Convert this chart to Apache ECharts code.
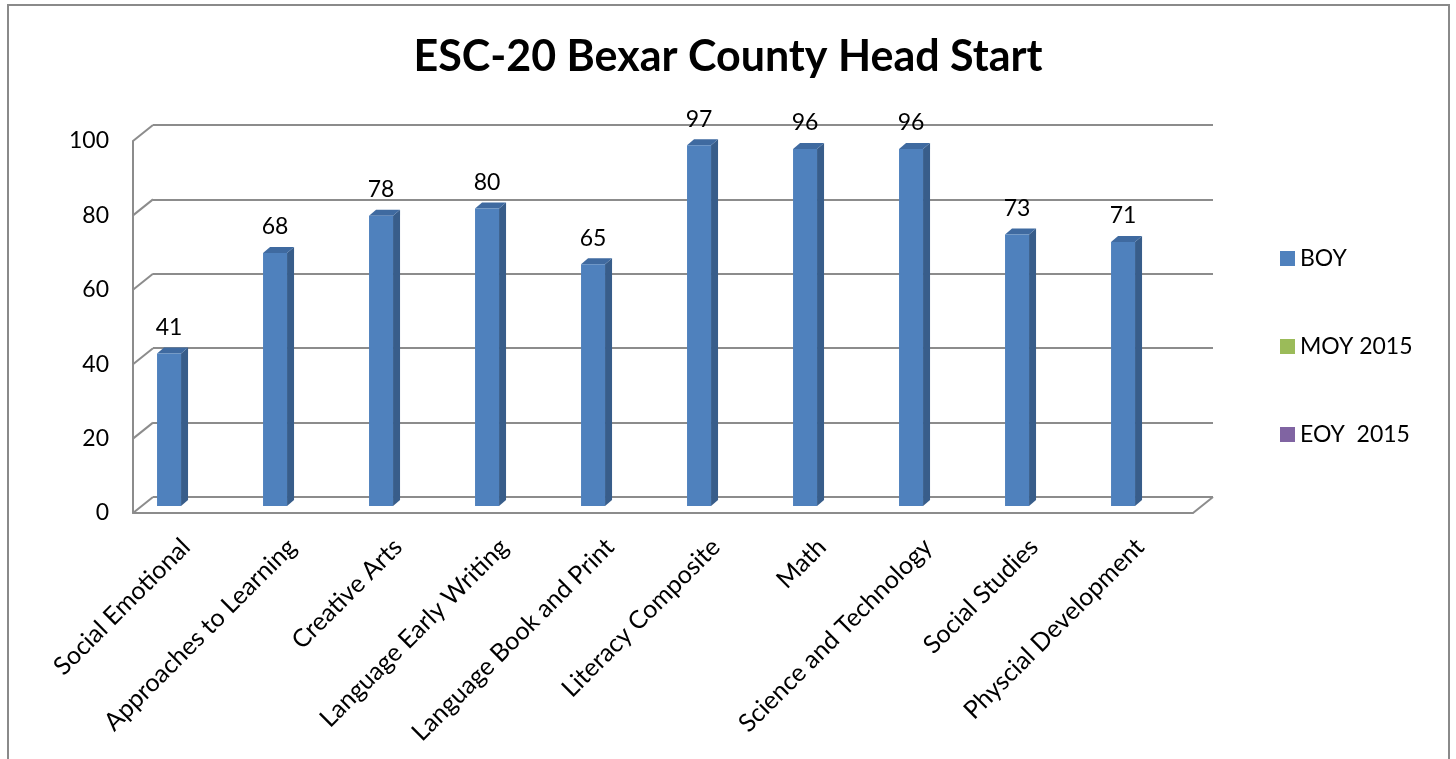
<!DOCTYPE html>
<html>
<head>
<meta charset="utf-8">
<script src="https://cdn.jsdelivr.net/npm/echarts@6/dist/echarts.min.js"></script>
<style>
  html, body { margin: 0; padding: 0; background: #fff; }
  #main { width: 1456px; height: 759px; }
</style>
</head>
<body>
<div id="main"></div>
<script>
  // data
  const categories = ['Social Emotional', 'Approaches to Learning', 'Creative Arts',
    'Language Early Writing', 'Language Book and Print', 'Literacy Composite',
    'Math', 'Science and Technology', 'Social Studies', 'Physcial Development'];
  const boy = [41, 68, 78, 80, 65, 97, 96, 96, 73, 71];
  const moy2015 = [];
  const eoy2015 = [];
  const yTicks = [0, 20, 40, 60, 80, 100];

  const FONT = 'Lato, "Open Sans", sans-serif';
  const GRID = '#8c8c8c';
  const DX = 20, DY = -16;     // wall depth
  const bdx = 7, bdy = -6;     // bar depth

  const chart = echarts.init(document.getElementById('main'));

  // left wall diagonals + right floor edge
  function wallItem(params, api) {
    const cs = params.coordSys;
    const v = api.value(0);
    const y = api.coord([0, v])[1];
    const kids = [{
      type: 'line',
      shape: { x1: cs.x, y1: y, x2: cs.x + DX, y2: y + DY },
      style: { stroke: GRID, lineWidth: 2 }
    }];
    if (v === 0) {
      kids.push({
        type: 'line',
        shape: { x1: cs.x + cs.width, y1: y, x2: cs.x + cs.width + DX, y2: y + DY },
        style: { stroke: GRID, lineWidth: 2 }
      });
    }
    return { type: 'group', children: kids };
  }

  function barItem(params, api) {
    const i = api.value(0);
    const v = api.value(1);
    const band = api.size([1, 0])[0];
    const p = api.coord([i, v]);
    const b = api.coord([i, 0]);
    const cx = p[0] - band * 0.16;
    const top = p[1] - 7, base = b[1] - 7;
    const hw = 12;
    return {
      type: 'group',
      children: [
        { type: 'polygon',
          shape: { points: [[cx + hw, top], [cx + hw + bdx, top + bdy], [cx + hw + bdx, base + bdy], [cx + hw, base]] },
          style: { fill: '#385d8a' } },
        { type: 'polygon',
          shape: { points: [[cx - hw, top], [cx - hw + bdx, top + bdy], [cx + hw + bdx, top + bdy], [cx + hw, top]] },
          style: { fill: '#3f6aa0' } },
        { type: 'rect',
          shape: { x: cx - hw, y: top, width: hw * 2, height: base - top },
          style: { fill: '#4f81bd' } },
        { type: 'text',
          style: { text: String(v), x: cx, y: top - 26, align: 'center', verticalAlign: 'middle',
                   font: '23px ' + FONT, fill: '#000' } }
      ]
    };
  }

  const option = {
    backgroundColor: '#fff',
    animation: false,
    title: {
      text: 'ESC-20 Bexar County Head Start',
      left: 'center',
      top: 31,
      textStyle: { fontFamily: FONT, fontWeight: 'bold', fontSize: 43, color: '#000' }
    },
    legend: {
      orient: 'vertical',
      left: 1275,
      top: 242,
      itemWidth: 15,
      itemHeight: 15,
      itemGap: 65,
      icon: 'rect',
      textStyle: { fontFamily: FONT, fontSize: 23, color: '#000' },
      data: ['BOY', 'MOY 2015', 'EOY  2015']
    },
    graphic: [{
      type: 'rect',
      shape: { x: 8, y: 5, width: 1441, height: 800 },
      style: { fill: 'none', stroke: '#8a8a8a', lineWidth: 2 }
    }],
    grid: [
      { left: 153, top: 125, width: 1060, height: 372 },
      { left: 133, top: 141, width: 1060, height: 372 }
    ],
    xAxis: [
      { gridIndex: 0, type: 'category', data: categories, show: false },
      { gridIndex: 1, type: 'category', data: categories,
        axisLine: { lineStyle: { color: GRID, width: 2 } },
        axisTick: { show: false },
        axisLabel: { rotate: 45, margin: 30, interval: 0, fontFamily: FONT, fontSize: 25, color: '#000' } }
    ],
    yAxis: [
      { gridIndex: 0, type: 'value', min: 0, max: 100, interval: 20,
        axisLabel: { show: false }, axisLine: { show: false }, axisTick: { show: false },
        splitLine: { lineStyle: { color: GRID, width: 2 } } },
      { gridIndex: 1, type: 'value', min: 0, max: 100, interval: 20,
        axisLine: { show: true, lineStyle: { color: GRID, width: 2 } },
        axisTick: { show: false },
        splitLine: { show: false },
        axisLabel: { margin: 24, fontFamily: FONT, fontSize: 23, color: '#000' } }
    ],
    series: [
      { type: 'custom', name: 'walls', xAxisIndex: 1, yAxisIndex: 1, silent: true,
        renderItem: wallItem, data: yTicks.map(v => [v]), encode: { y: 0 }, z: 1 },
      { type: 'custom', name: 'BOY', xAxisIndex: 1, yAxisIndex: 1,
        itemStyle: { color: '#4f81bd' },
        renderItem: barItem, data: boy.map((v, i) => [i, v]), encode: { x: 0, y: 1 }, z: 3 },
      { type: 'bar', name: 'MOY 2015', xAxisIndex: 1, yAxisIndex: 1,
        itemStyle: { color: '#9bbb59' }, data: moy2015 },
      { type: 'bar', name: 'EOY  2015', xAxisIndex: 1, yAxisIndex: 1,
        itemStyle: { color: '#8064a2' }, data: eoy2015 }
    ]
  };

  chart.setOption(option);
</script>
</body>
</html>
